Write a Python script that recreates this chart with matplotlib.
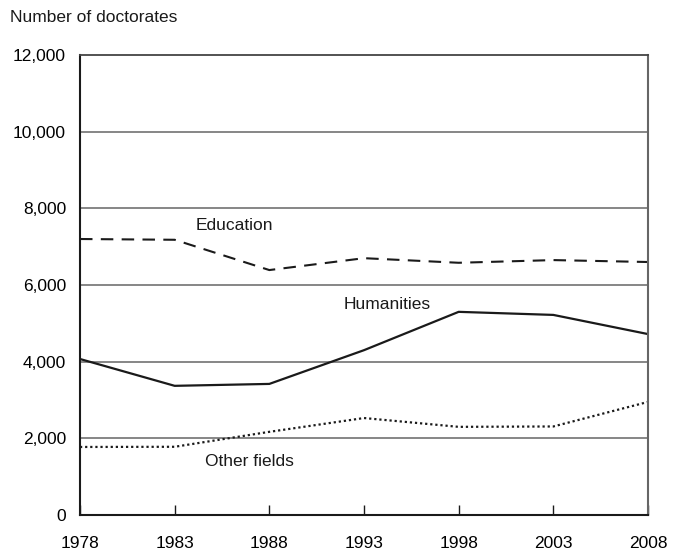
import matplotlib
matplotlib.use('Agg')
import matplotlib.pyplot as plt
from matplotlib.ticker import FuncFormatter

plt.rcParams['font.family'] = ['Liberation Sans Narrow', 'Liberation Sans', 'DejaVu Sans']

years = [1978, 1983, 1988, 1993, 1998, 2003, 2008]
education = [7200, 7180, 6390, 6700, 6580, 6650, 6600]
humanities = [4070, 3370, 3420, 4300, 5300, 5220, 4720]
other_fields = [1775, 1780, 2170, 2530, 2300, 2310, 2950]

fig = plt.figure(figsize=(6.75, 5.5), dpi=100)
ax = fig.add_axes([0.1185, 0.0636, 0.8415, 0.8364])

ink = '#1a1a1a'
ax.plot(years, education, color=ink, lw=1.5, linestyle=(0, (6, 4)))
ax.plot(years, humanities, color=ink, lw=1.6)
ax.plot(years, other_fields, color=ink, lw=1.6, linestyle=(0, (1, 1.3)))

ax.set_xlim(1978, 2008)
ax.set_ylim(0, 12000)
ax.set_xticks(years)
ax.set_yticks(range(0, 12001, 2000))
ax.yaxis.set_major_formatter(FuncFormatter(lambda v, p: f'{int(v):,}'))

for y in range(2000, 12000, 2000):
    ax.axhline(y, color='#666666', lw=1.1, zorder=0)

ax.tick_params(axis='x', direction='in', length=7, width=1, color=ink,
               labelsize=12.5, pad=15)
ax.tick_params(axis='y', length=0, labelsize=12.5, pad=10)
ax.spines['left'].set_color(ink)
ax.spines['left'].set_linewidth(1.5)
ax.spines['bottom'].set_color(ink)
ax.spines['bottom'].set_linewidth(1.5)
ax.spines['top'].set_color('#444444')
ax.spines['top'].set_linewidth(1.3)
ax.spines['right'].set_color('#666666')
ax.spines['right'].set_linewidth(1.5)

ax.text(1984.1, 7550, 'Education', fontsize=12.5, color=ink, ha='left', va='center')
ax.text(1991.9, 5500, 'Humanities', fontsize=12.5, color=ink, ha='left', va='center')
ax.text(1984.6, 1400, 'Other fields', fontsize=12.5, color=ink, ha='left', va='center')

fig.text(10 / 675, 1 - 18 / 550, 'Number of doctorates', fontsize=12.5,
         color=ink, ha='left', va='center')

fig.savefig('out.png', dpi=100)
